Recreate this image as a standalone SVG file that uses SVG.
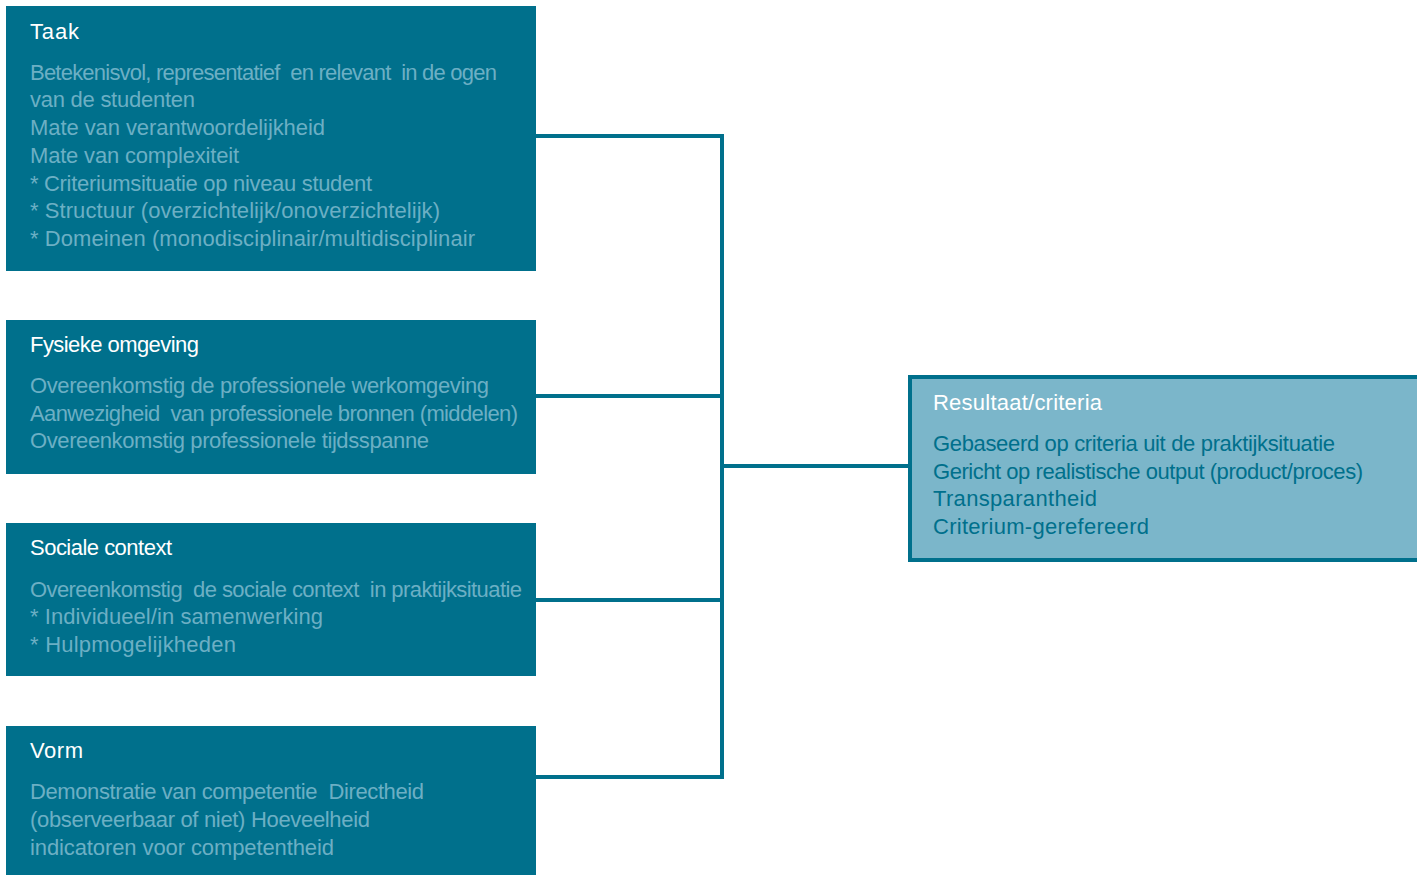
<svg xmlns="http://www.w3.org/2000/svg" width="1417" height="875" viewBox="0 0 1417 875">
<style>
.box{fill:#00708C}
.res{fill:#7BB6CA;stroke:#00708C;stroke-width:4}
text{white-space:pre;font-family:"Liberation Sans",Arial,sans-serif;font-size:22px}
.t{fill:#FFFFFF}
.b{fill:#6CAFC4}
.rb{fill:#00708C}
.c{fill:none;stroke:#00708C;stroke-width:4}
</style>
<rect width="1417" height="875" fill="#FFFFFF"/>
<g id="connectors">
<polyline class="c" points="536,136 722,136 722,777 536,777"/>
<line class="c" x1="536" y1="396" x2="722" y2="396"/>
<line class="c" x1="536" y1="600" x2="722" y2="600"/>
<line class="c" x1="722" y1="466" x2="910" y2="466"/>
</g>
<g id="taak">
<rect class="box" x="6" y="6" width="530" height="265"/>
<text class="t" x="30" y="39" textLength="49">Taak</text>
<text class="b" x="30" y="80" textLength="467" xml:space="preserve">Betekenisvol, representatief  en relevant  in de ogen</text>
<text class="b" x="30" y="107" textLength="165">van de studenten</text>
<text class="b" x="30" y="135" textLength="295">Mate van verantwoordelijkheid</text>
<text class="b" x="30" y="163" textLength="209">Mate van complexiteit</text>
<text class="b" x="30" y="191" textLength="342">* Criteriumsituatie op niveau student</text>
<text class="b" x="30" y="218" textLength="410">* Structuur (overzichtelijk/onoverzichtelijk)</text>
<text class="b" x="30" y="246" textLength="445">* Domeinen (monodisciplinair/multidisciplinair</text>
</g>
<g id="fysieke">
<rect class="box" x="6" y="320" width="530" height="154"/>
<text class="t" x="30" y="352" textLength="169">Fysieke omgeving</text>
<text class="b" x="30" y="393" textLength="459">Overeenkomstig de professionele werkomgeving</text>
<text class="b" x="30" y="421" textLength="488" xml:space="preserve">Aanwezigheid  van professionele bronnen (middelen)</text>
<text class="b" x="30" y="448" textLength="399">Overeenkomstig professionele tijdsspanne</text>
</g>
<g id="sociale">
<rect class="box" x="6" y="523" width="530" height="153"/>
<text class="t" x="30" y="555" textLength="142">Sociale context</text>
<text class="b" x="30" y="597" textLength="492" xml:space="preserve">Overeenkomstig  de sociale context  in praktijksituatie</text>
<text class="b" x="30" y="624" textLength="293">* Individueel/in samenwerking</text>
<text class="b" x="30" y="652" textLength="206">* Hulpmogelijkheden</text>
</g>
<g id="vorm">
<rect class="box" x="6" y="726" width="530" height="149"/>
<text class="t" x="30" y="758" textLength="53">Vorm</text>
<text class="b" x="30" y="799" textLength="394" xml:space="preserve">Demonstratie van competentie  Directheid</text>
<text class="b" x="30" y="827" textLength="340">(observeerbaar of niet) Hoeveelheid</text>
<text class="b" x="30" y="855" textLength="304">indicatoren voor competentheid</text>
</g>
<g id="resultaat">
<rect class="res" x="910" y="377" width="512" height="183"/>
<text class="t" x="933" y="410" textLength="169">Resultaat/criteria</text>
<text class="rb" x="933" y="451" textLength="402">Gebaseerd op criteria uit de praktijksituatie</text>
<text class="rb" x="933" y="479" textLength="430">Gericht op realistische output (product/proces)</text>
<text class="rb" x="933" y="506" textLength="164">Transparantheid</text>
<text class="rb" x="933" y="534" textLength="216">Criterium-gerefereerd</text>
</g>
</svg>
